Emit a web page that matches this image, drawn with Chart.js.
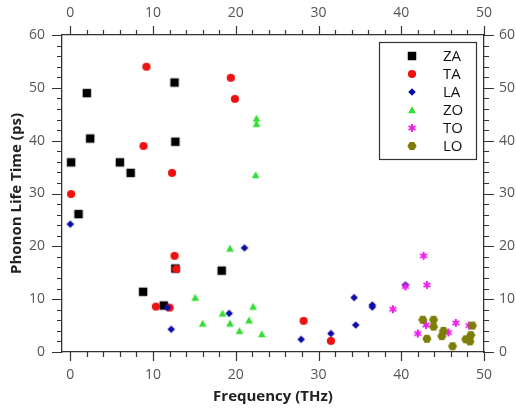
<!DOCTYPE html>
<html>
<head>
<meta charset="utf-8">
<script src="https://cdn.jsdelivr.net/npm/chart.js@4.4.1/dist/chart.umd.min.js"></script>
<style>
  html, body { margin: 0; padding: 0; background: #fff; }
  #wrap { width: 516px; height: 409px; }
</style>
</head>
<body>
<div id="wrap"><canvas id="phonon" width="516" height="409"></canvas></div>
<script>
// dados (frequência em THz, tempo de vida em ps)
const seriesNames = ['ZA', 'TA', 'LA', 'ZO', 'TO', 'LO'];

const zaFreq = [0.1, 1.0, 2.0, 2.4, 6.0, 7.3, 8.8, 11.3, 12.6, 12.7, 12.7, 18.3];
const zaLife = [35.9, 26.1, 49.0, 40.4, 35.9, 33.9, 11.4, 8.8, 51.0, 39.8, 15.8, 15.4];

const taFreq = [0.1, 8.85, 9.2, 10.35, 12.0, 12.3, 12.6, 12.8, 19.4, 19.9, 28.2, 31.5];
const taLife = [29.9, 39.0, 54.0, 8.6, 8.4, 33.9, 18.2, 15.7, 51.9, 47.9, 5.9, 2.1];

const laFreq = [0.0, 11.75, 12.2, 19.2, 21.05, 27.9, 31.5, 34.3, 34.5, 36.5, 36.5, 40.5];
const laLife = [24.2, 8.4, 4.3, 7.3, 19.7, 2.4, 3.5, 10.3, 5.1, 8.9, 8.5, 12.7];

const zoFreq = [15.1, 16.0, 18.4, 19.3, 19.3, 20.45, 21.6, 22.1, 22.4, 22.5, 22.5, 23.15];
const zoLife = [10.3, 5.4, 7.3, 19.6, 5.4, 4.0, 6.0, 8.6, 33.5, 44.2, 43.2, 3.4];

const toFreq = [39.0, 40.5, 42.0, 42.7, 43.0, 43.1, 45.7, 46.6, 48.2];
const toLife = [8.1, 12.4, 3.5, 18.2, 5.1, 12.7, 3.7, 5.5, 5.0];

const loFreq = [42.6, 43.1, 43.9, 43.9, 44.9, 45.1, 46.2, 47.8, 48.3, 48.4, 48.6];
const loLife = [6.1, 2.5, 6.1, 4.8, 3.0, 4.0, 1.1, 2.4, 2.0, 3.2, 5.0];

const xTickValues = [0, 10, 20, 30, 40, 50];
const yTickValues = [0, 10, 20, 30, 40, 50, 60];

const FONT = "'Open Sans', 'DejaVu Sans', sans-serif";
const AXIS = '#333';

// marcadores desenhados num canvas pequeno (usados nos pontos e na legenda)
function makeMarker(shape, color) {
    const c = document.createElement('canvas');
    c.width = 12; c.height = 12;
    const g = c.getContext('2d');
    g.fillStyle = color;
    g.strokeStyle = color;
    g.beginPath();
    if (shape === 'square') {
        g.rect(1.75, 1.75, 8.5, 8.5);
        g.fill();
    } else if (shape === 'circle') {
        g.arc(6, 6, 4.1, 0, Math.PI * 2);
        g.fill();
    } else if (shape === 'diamond') {
        g.moveTo(6, 2.2); g.lineTo(9.8, 6); g.lineTo(6, 9.8); g.lineTo(2.2, 6);
        g.closePath(); g.fill();
    } else if (shape === 'triangle') {
        g.moveTo(6, 2.3); g.lineTo(9.9, 9.3); g.lineTo(2.1, 9.3);
        g.closePath(); g.fill();
    } else if (shape === 'star') {
        g.lineWidth = 2;
        for (let k = 0; k < 3; k++) {
            const ang = Math.PI / 2 + k * Math.PI / 3;
            g.moveTo(6 + Math.cos(ang) * 4, 6 + Math.sin(ang) * 4);
            g.lineTo(6 - Math.cos(ang) * 4, 6 - Math.sin(ang) * 4);
        }
        g.stroke();
        g.beginPath();
        g.arc(6, 6, 2, 0, Math.PI * 2);
        g.fill();
    } else if (shape === 'hexagon') {
        for (let k = 0; k < 6; k++) {
            const ang = k * Math.PI / 3;
            const px = 6 + Math.cos(ang) * 4.6, py = 6 + Math.sin(ang) * 4.6;
            if (k === 0) g.moveTo(px, py); else g.lineTo(px, py);
        }
        g.closePath(); g.fill();
    }
    return c;
}

const markers = [
    makeMarker('square', '#000000'),
    makeMarker('circle', '#ee1111'),
    makeMarker('diamond', '#0c0ca8'),
    makeMarker('triangle', '#33dd33'),
    makeMarker('star', '#ee22ee'),
    makeMarker('hexagon', '#7d7d08')
];

function pts(xs, ys) {
    return xs.map((x, i) => ({ x: x, y: ys[i] }));
}

const allData = [
    pts(zaFreq, zaLife), pts(taFreq, taLife), pts(laFreq, laLife),
    pts(zoFreq, zoLife), pts(toFreq, toLife), pts(loFreq, loLife)
];

const datasets = seriesNames.map((name, i) => ({
    label: name,
    data: allData[i],
    pointStyle: markers[i],
    order: 6 - i // séries posteriores ficam por cima
}));

// ticks menores e maiores nos quatro lados
const frameTicks = {
    id: 'frameTicks',
    afterDraw(chart) {
        const { ctx, chartArea: a, scales } = chart;
        ctx.save();
        ctx.strokeStyle = AXIS;
        ctx.lineWidth = 1.2;
        ctx.beginPath();
        for (let v = 0; v <= 50; v += 2) {
            const px = Math.round(scales.x.getPixelForValue(v)) + 0.5;
            const len = v % 10 === 0 ? 9 : 5;
            ctx.moveTo(px, a.bottom); ctx.lineTo(px, a.bottom + len);
            ctx.moveTo(px, a.top); ctx.lineTo(px, a.top - len);
        }
        for (let v = 0; v <= 60; v += 2) {
            const py = Math.round(scales.y.getPixelForValue(v)) + 0.5;
            const len = v % 10 === 0 ? 10 : 5;
            ctx.moveTo(a.left, py); ctx.lineTo(a.left - len, py);
            ctx.moveTo(a.right, py); ctx.lineTo(a.right + len, py);
        }
        ctx.stroke();
        ctx.restore();
    }
};

// legenda com moldura dentro da área do gráfico
const boxLegend = {
    id: 'boxLegend',
    afterDraw(chart) {
        const { ctx, chartArea: a } = chart;
        const left = a.right - 105, top = a.top + 7;
        const w = 97, h = 117;
        ctx.save();
        ctx.fillStyle = '#fff';
        ctx.fillRect(left, top, w, h);
        ctx.strokeStyle = '#333';
        ctx.lineWidth = 1.2;
        ctx.strokeRect(left + 0.5, top + 0.5, w, h);
        ctx.font = '15px ' + FONT;
        ctx.fillStyle = '#111';
        ctx.textBaseline = 'middle';
        chart.data.datasets.forEach((ds, i) => {
            const cy = top + 13.5 + i * 18;
            const img = ds.pointStyle;
            ctx.drawImage(img, Math.round(left + 33 - img.width / 2), Math.round(cy - img.height / 2));
            ctx.fillText(ds.label, left + 64, cy + 1);
        });
        ctx.restore();
    }
};

function fixedTicks(values) {
    return function (scale) {
        scale.ticks = values.map(v => ({ value: v }));
    };
}

const tickFont = { family: FONT, size: 14 };
const titleFont = { family: FONT, size: 15, weight: 'bold' };

new Chart(document.getElementById('phonon'), {
    type: 'scatter',
    data: { datasets: datasets },
    options: {
        responsive: false,
        animation: false,
        events: [],
        layout: { padding: 0 },
        elements: { point: { radius: 4 } },
        plugins: {
            legend: { display: false },
            tooltip: { enabled: false }
        },
        scales: {
            x: {
                position: 'bottom',
                min: -1, max: 50,
                afterBuildTicks: fixedTicks(xTickValues),
                afterFit: (s) => { s.height = 57; },
                grid: { display: false, drawTicks: false },
                border: { display: true, color: AXIS, width: 1.3 },
                ticks: { font: tickFont, color: '#555', padding: 15, maxRotation: 0 },
                title: { display: true, text: 'Frequency (THz)', font: titleFont, color: '#222', padding: { top: 0, bottom: 3 } }
            },
            x2: {
                position: 'top',
                min: -1, max: 50,
                afterBuildTicks: fixedTicks(xTickValues),
                afterFit: (s) => { s.height = 35; },
                grid: { display: false, drawTicks: false },
                border: { display: true, color: AXIS, width: 1.3 },
                ticks: { font: tickFont, color: '#555', padding: 14, maxRotation: 0 }
            },
            y: {
                position: 'left',
                min: 0, max: 60,
                afterBuildTicks: fixedTicks(yTickValues),
                afterFit: (s) => { s.width = 62; },
                grid: { display: false, drawTicks: false },
                border: { display: true, color: AXIS, width: 1.3 },
                ticks: { font: tickFont, color: '#555', padding: 17 },
                title: { display: true, text: 'Phonon Life Time (ps)', font: titleFont, color: '#222', padding: { top: 8, bottom: 0 } }
            },
            y2: {
                position: 'right',
                min: 0, max: 60,
                afterBuildTicks: fixedTicks(yTickValues),
                afterFit: (s) => { s.width = 32; },
                grid: { display: false, drawTicks: false },
                border: { display: true, color: AXIS, width: 1.3 },
                ticks: { font: tickFont, color: '#555', padding: 15 }
            }
        }
    },
    plugins: [frameTicks, boxLegend]
});
</script>
</body>
</html>
